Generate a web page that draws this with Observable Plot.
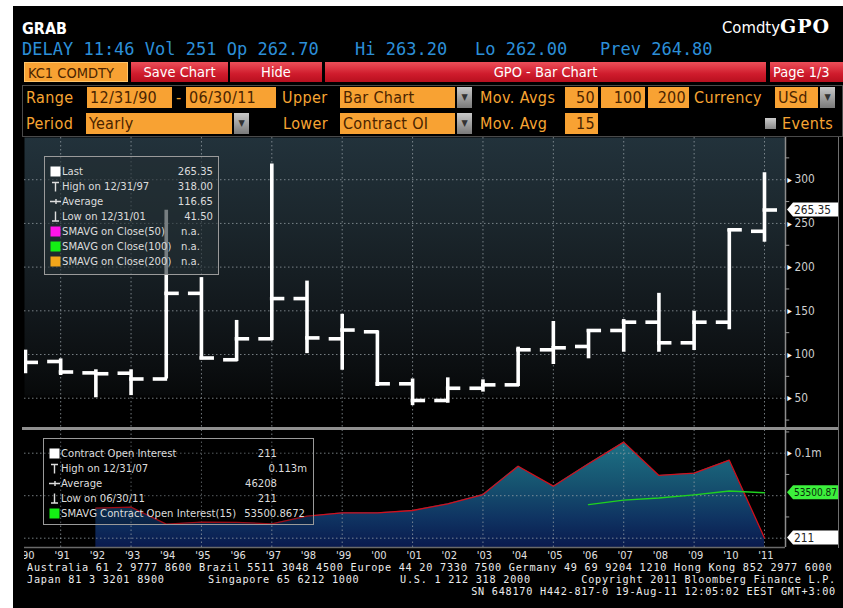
<!DOCTYPE html>
<html><head><meta charset="utf-8">
<script src="https://cdn.jsdelivr.net/npm/d3@7"></script>
<script src="https://cdn.jsdelivr.net/npm/@observablehq/plot@0.6"></script>
<style>
html,body{margin:0;padding:0;}
body{background:#fff;width:843px;height:608px;overflow:hidden;position:relative;font-family:"DejaVu Sans Condensed","Liberation Sans Narrow","DejaVu Sans",sans-serif;}
.abs{position:absolute;white-space:pre;box-sizing:border-box;}
.red{background:linear-gradient(#ec4f59,#cf1b2c 60%,#b8101f);color:#fff;font-size:14.5px;line-height:20px;text-align:center;height:20px;top:62px;}
.lbl{color:#f7a533;font-size:16px;letter-spacing:0.4px;line-height:21px;height:21px;}
.inp{background:#f8a233;color:#4a2400;font-size:16px;letter-spacing:0.3px;line-height:21px;height:21px;padding-left:3px;}
.dd{background:linear-gradient(#c8c8c8,#7a7a7a);width:15px;height:21px;color:#333;font-size:9px;line-height:21px;text-align:center;}
.lg{color:#dcdcdc;font-size:11.2px;line-height:15px;height:15px;}
.ft{color:#ececec;font-family:"DejaVu Sans Mono","Liberation Mono",monospace;font-size:10.2px;letter-spacing:0.75px;line-height:10px;height:10px;}
.dl{color:#2c8fd8;font-family:"DejaVu Sans Mono","Liberation Mono",monospace;font-size:17px;top:39px;}
</style></head>
<body>
<div class="abs" style="left:13px;top:6px;width:830px;height:602px;background:#000;"></div>
<script>
// ---------------- DATA ----------------
const years    = [1990,1991,1992,1993,1994,1995,1996,1997,1998,1999,2000,2001,2002,2003,2004,2005,2006,2007,2008,2009,2010,2011];
const openPx   = [90, 92, 79, 78.6, 72, 170, 94, 118, 164, 118, 126, 66.5, 47.4, 61.4, 65.3, 105.4, 109.2, 127.5, 137, 113.4, 137, 241];
const highPx   = [105, 95, 82.5, 82.5, 265, 188, 139, 318, 184, 146, 127, 72, 73.3, 71, 108.4, 137.8, 128.3, 140, 170, 149.5, 243, 308];
const lowPx    = [78, 76, 50.5, 53, 72, 94, 92, 116, 101, 82, 63.4, 41.5, 44.3, 57, 63.4, 88.6, 95.1, 102.6, 102.6, 104.6, 128.3, 228.5];
const closePx  = [91, 80, 78, 72, 170, 96, 118, 164, 119, 128, 66.5, 47.4, 61.4, 65.3, 105.4, 107.7, 127.5, 137, 113.4, 137, 242.7, 265.35];
const oiYears  = [1992,1993,1994,1995,1996,1997,1998,1999,2000,2001,2002,2003,2004,2005,2006,2007,2008,2009,2010,2011];
const openInterest = [35300, 36500, 16500, 18800, 18500, 16900, 25900, 29800, 29800, 32600, 40500, 51400, 84700, 61200, 87500, 113000, 73800, 76500, 91800, 211];
const smaYears = [2006,2007,2008,2009,2010,2011];
const smaOI    = [39500, 44800, 47300, 51000, 55500, 53500.87];
const gridYears = [1991,1993,1995,1997,1999,2001,2003,2005,2007,2009,2011];
const upperTicks = [50,100,150,200,250,300];
const upperMinor = [25,75,125,175,225,275,325];
const lowerGrid = [0,50000,100000];
const lowerLabelTicks = [100000];
const lowerTickLabels = ["0.1m"];
const lowerMinor = [25000,75000,125000];
const xLabels = years.map(y => "'" + String(y).slice(2));
const lastPrice = 265.35, lastOI = 211, lastSMA = 53500.87;

// ---------------- HELPERS ----------------
function el(css, text, cls) {
  const e = document.createElement("div");
  e.className = "abs" + (cls ? " " + cls : "");
  Object.assign(e.style, css);
  if (text != null) e.textContent = text;
  document.body.appendChild(e);
  return e;
}
function scaleFn(chart, name) {
  const s = chart.scale(name);
  if (s && typeof s.apply === "function") return v => s.apply(v);
  return d3.scaleLinear(s.domain, s.range);
}
const font = '"DejaVu Sans Condensed","DejaVu Sans",sans-serif';
function flagBox(svg, yPix, text, bg, fg) {
  const g = d3.select(svg).append("g");
  const xl = 761; // frame's right edge in svg coordinates
  g.append("path")
    .attr("d", `M${xl+2},${yPix} L${xl+8},${yPix-7} L${xl+54},${yPix-7} L${xl+54},${yPix+7} L${xl+8},${yPix+7} Z`)
    .attr("fill", bg);
  const long = text.length > 6;
  const t = g.append("text").attr("x", xl + 9).attr("y", yPix + 4.2)
    .attr("text-anchor", "start")
    .attr("fill", fg).attr("font-size", long ? 10.5 : 11.8)
    .attr("font-family", font)
    .text(text);
  if (long) t.attr("textLength", 43).attr("lengthAdjust", "spacingAndGlyphs");
}

// ---------------- HEADER ----------------
el({left:"22px",top:"19px",color:"#fff",fontSize:"16px",fontWeight:"bold"}, "GRAB");
const cg = el({right:"13px",top:"15px",color:"#fff",fontSize:"16.5px"});
cg.innerHTML = 'Comdty<span style="font-family:\'DejaVu Serif\',\'Liberation Serif\',serif;font-weight:bold;font-size:19px;letter-spacing:1px">GPO</span>';
el({left:"22px"}, "DELAY 11:46 Vol 251 Op 262.70", "dl");
el({left:"355px"}, "Hi 263.20", "dl");
el({left:"475px"}, "Lo 262.00", "dl");
el({left:"600px"}, "Prev 264.80", "dl");

el({left:"24px",top:"62px",width:"104px",height:"20px",background:"#f8a233",color:"#4a2400",fontSize:"14.5px",lineHeight:"20px",paddingLeft:"3px",border:"1px solid #ffc46a"}, "KC1 COMDTY");
el({left:"131px",width:"97px"}, "Save Chart", "red");
el({left:"230px",width:"92px"}, "Hide", "red");
el({left:"325px",width:"441px"}, "GPO - Bar Chart", "red");
el({left:"770px",width:"73px",textAlign:"left",paddingLeft:"3px"}, "Page 1/3", "red");

el({left:"22px",top:"85px",width:"821px",height:"52px",border:"1px solid #4a4a4a"});
// row 4
el({left:"26px",top:"87px"}, "Range", "lbl");
el({left:"87px",top:"87px",width:"85px"}, "12/31/90", "inp");
el({left:"176px",top:"87px"}, "-", "lbl");
el({left:"186px",top:"87px",width:"90px"}, "06/30/11", "inp");
el({left:"282px",top:"87px"}, "Upper", "lbl");
el({left:"340px",top:"87px",width:"115px"}, "Bar Chart", "inp");
el({left:"457px",top:"87px"}, "▼", "dd");
el({left:"480px",top:"87px"}, "Mov. Avgs", "lbl");
el({left:"565px",top:"87px",width:"33px",textAlign:"right",paddingRight:"3px"}, "50", "inp");
el({left:"601px",top:"87px",width:"44px",textAlign:"right",paddingRight:"3px"}, "100", "inp");
el({left:"648px",top:"87px",width:"41px",textAlign:"right",paddingRight:"3px"}, "200", "inp");
el({left:"694px",top:"87px"}, "Currency", "lbl");
el({left:"775px",top:"87px",width:"43px"}, "USd", "inp");
el({left:"820px",top:"87px"}, "▼", "dd");
// row 5
el({left:"26px",top:"113px"}, "Period", "lbl");
el({left:"86px",top:"113px",width:"146px"}, "Yearly", "inp");
el({left:"234px",top:"113px"}, "▼", "dd");
el({left:"283px",top:"113px"}, "Lower", "lbl");
el({left:"340px",top:"113px",width:"115px"}, "Contract OI", "inp");
el({left:"457px",top:"113px"}, "▼", "dd");
el({left:"480px",top:"113px"}, "Mov. Avg", "lbl");
el({left:"565px",top:"113px",width:"33px",textAlign:"right",paddingRight:"3px"}, "15", "inp");
el({left:"765px",top:"118px",width:"11px",height:"11px",background:"linear-gradient(#ccc,#888)"});
el({left:"782px",top:"113px"}, "Events", "lbl");

// ---------------- UPPER PANEL ----------------
const bars = years.map((y, i) => ({year: y, open: openPx[i], high: highPx[i], low: lowPx[i], close: closePx[i]}));
const X0 = 1989.972, X1 = 2011.597;
const TICK = 0.37;
const dotted = {stroke: "#9aa3a8", strokeOpacity: 0.75, strokeDasharray: "1.5,2.5", strokeWidth: 1};

const upper = Plot.plot({
  width: 819, height: 290,
  marginLeft: 0, marginRight: 58, marginTop: 0, marginBottom: 0,
  x: {domain: [X0, X1], axis: null},
  y: {domain: [16.5, 348.3], axis: null},
  style: {background: "transparent", overflow: "hidden", fontFamily: font},
  marks: [
    Plot.frame({fill: "url(#upGrad)", stroke: "none"}),
    Plot.ruleY(upperTicks, {y: d => d, ...dotted}),
    Plot.ruleX(gridYears, {x: d => d, ...dotted}),
    Plot.ruleX(bars, {x: "year", y1: "low", y2: "high", stroke: "#fff", strokeWidth: 3.6, clip: true}),
    Plot.ruleY(bars, {y: "open", x1: d => d.year - TICK, x2: d => d.year + 0.04, stroke: "#fff", strokeWidth: 3.6, clip: true}),
    Plot.ruleY(bars, {y: "close", x1: d => d.year - 0.04, x2: d => d.year + TICK, stroke: "#fff", strokeWidth: 3.6, clip: true}),
    Plot.ruleX([X1], {stroke: "#8d8d8d", strokeWidth: 1.5}),
    Plot.ruleY(upperMinor, {y: d => d, x1: X1, x2: X1 + 0.12, stroke: "#9a9a9a", strokeWidth: 1}),
    Plot.text(upperTicks, {x: () => X1, y: d => d, text: () => "▸", dx: 4, fill: "#fff", fontSize: 10, textAnchor: "middle"}),
    Plot.text(upperTicks, {x: () => X1, y: d => d, text: d => String(d), dx: 9, fill: "#d0d0d0", fontSize: 11.8, textAnchor: "start"})
  ]
});
d3.select(upper).insert("defs", ":first-child").html(
  '<linearGradient id="upGrad" x1="0" y1="0" x2="0" y2="1">' +
  '<stop offset="0" stop-color="#22323b"/><stop offset="0.3" stop-color="#1b262c"/>' +
  '<stop offset="0.6" stop-color="#12181c"/><stop offset="0.8" stop-color="#0b0e10"/>' +
  '<stop offset="0.885" stop-color="#07090a"/><stop offset="0.9" stop-color="#000"/><stop offset="1" stop-color="#000"/>' +
  '</linearGradient>');
flagBox(upper, scaleFn(upper, "y")(lastPrice), lastPrice.toFixed(2), "#ffffff", "#222");
Object.assign(upper.style, {position: "absolute", left: "24px", top: "137px"});
document.body.appendChild(upper);

// ---------------- LOWER PANEL ----------------
const oi = oiYears.map((y, i) => ({year: y, value: openInterest[i]}));
const sma = smaYears.map((y, i) => ({year: y, value: smaOI[i]}));
const LY0 = -10941, LY1 = 126706;
const lower = Plot.plot({
  width: 819, height: 135,
  marginLeft: 0, marginRight: 58, marginTop: 0, marginBottom: 18,
  x: {domain: [X0, X1], axis: null},
  y: {domain: [LY0, LY1], axis: null},
  style: {background: "transparent", overflow: "hidden", fontFamily: font},
  marks: [
    Plot.areaY(oi, {x: "year", y1: () => LY0, y2: "value", fill: "url(#oiGrad)"}),
    Plot.ruleY(lowerGrid, {y: d => d, ...dotted}),
    Plot.ruleX(gridYears, {x: d => d, y1: LY0, y2: LY1, ...dotted}),
    Plot.line(oi, {x: "year", y: "value", stroke: "#d0101c", strokeWidth: 1.3}),
    Plot.line(sma, {x: "year", y: "value", stroke: "#1fd21f", strokeWidth: 1.4}),
    Plot.ruleX([X1], {y1: LY0, y2: LY1, stroke: "#8d8d8d", strokeWidth: 1.5}),
    Plot.ruleY([LY0], {x1: X0, x2: X1, stroke: "#6a6a6a", strokeWidth: 1.5}),
    Plot.ruleY(lowerMinor, {y: d => d, x1: X1, x2: X1 + 0.12, stroke: "#9a9a9a", strokeWidth: 1}),
    Plot.text(lowerLabelTicks, {x: () => X1, y: d => d, text: () => "▸", dx: 4, fill: "#fff", fontSize: 10, textAnchor: "middle"}),
    Plot.text(lowerLabelTicks, {x: () => X1, y: d => d, text: (d, i) => lowerTickLabels[i], dx: 9, fill: "#d0d0d0", fontSize: 11.8, textAnchor: "start"}),
    Plot.text(years, {x: d => d, y: () => LY0, text: (d, i) => xLabels[i], dy: 8, dx: 1.5, fill: "#e0e0e0", fontSize: 11, textAnchor: "middle"})
  ]
});
d3.select(lower).insert("defs", ":first-child").html(
  '<linearGradient id="oiGrad" x1="0" y1="0" x2="0" y2="1">' +
  '<stop offset="0" stop-color="#1d7185"/><stop offset="0.4" stop-color="#165370"/>' +
  '<stop offset="0.72" stop-color="#0f3462"/><stop offset="1" stop-color="#0a1a4e"/>' +
  '</linearGradient>');
const ly = scaleFn(lower, "y");
flagBox(lower, ly(lastSMA), "53500.87", "#3cf03c", "#0a2a0a");
flagBox(lower, ly(lastOI), String(lastOI), "#ffffff", "#222");
Object.assign(lower.style, {position: "absolute", left: "24px", top: "430px"});
document.body.appendChild(lower);

// separators / borders
el({left:"22px",top:"427px",width:"816px",height:"3px",background:"#8f8f8f"});
el({left:"838px",top:"137px",width:"1px",height:"411px",background:"#6f6f6f"});

// ---------------- LEGENDS ----------------
function icon(kind, color) {
  const c = color || "#fff";
  if (kind === "sq") return `<svg width="11" height="11"><rect x="0.5" y="0.5" width="10" height="10" fill="${c}"/></svg>`;
  if (kind === "hi") return `<svg width="11" height="11"><path d="M2,1.5H9M5.5,1.5V10.5" stroke="#ddd" stroke-width="1.4" fill="none"/></svg>`;
  if (kind === "lo") return `<svg width="11" height="11"><path d="M2,10H9M5.5,0.5V10" stroke="#ddd" stroke-width="1.4" fill="none"/></svg>`;
  if (kind === "avg") return `<svg width="11" height="11"><path d="M0,5.5H11M6,3V8" stroke="#ddd" stroke-width="1.4" fill="none"/></svg>`;
}
function legend(box, rows) {
  const b = el(box);
  rows.forEach((r, i) => {
    const row = document.createElement("div");
    row.className = "abs lg";
    Object.assign(row.style, {left: "0px", top: (r.top + i * 15) + "px", width: "100%"});
    row.innerHTML = `<span style="position:absolute;left:${r.il}px;top:2px">${icon(r.icon, r.color)}</span>` +
      `<span style="position:absolute;left:${r.tl}px">${r.label}</span>` +
      (r.vr != null ? `<span style="position:absolute;right:${r.vr}px">${r.value}</span>`
                    : `<span style="position:absolute;left:${r.vl}px">${r.value}</span>`);
    b.appendChild(row);
  });
}
legend({left:"44px",top:"156px",width:"175px",height:"119px",border:"1px solid #9a9a9a",background:"rgba(36,46,52,0.62)"}, [
  {icon:"sq", label:"Last", value:"265.35", il:5, tl:17, vr:5, top:7},
  {icon:"hi", label:"High on 12/31/97", value:"318.00", il:5, tl:17, vr:5, top:7},
  {icon:"avg", label:"Average", value:"116.65", il:5, tl:17, vr:5, top:7},
  {icon:"lo", label:"Low on 12/31/01", value:"41.50", il:5, tl:17, vr:5, top:7},
  {icon:"sq", color:"#ff14e8", label:"SMAVG on Close(50)", value:"n.a.", il:5, tl:17, vl:136, top:7},
  {icon:"sq", color:"#14f014", label:"SMAVG on Close(100)", value:"n.a.", il:5, tl:17, vl:136, top:7},
  {icon:"sq", color:"#f2a61a", label:"SMAVG on Close(200)", value:"n.a.", il:5, tl:17, vl:136, top:7}
]);
legend({left:"43px",top:"438px",width:"271px",height:"87px",border:"1px solid #9a9a9a",background:"rgba(0,0,0,0.25)"}, [
  {icon:"sq", label:"Contract Open Interest", value:"211", il:5, tl:17, vr:36, top:7},
  {icon:"hi", label:"High on 12/31/07", value:"0.113m", il:5, tl:17, vr:6, top:7},
  {icon:"avg", label:"Average", value:"46208", il:5, tl:17, vr:36, top:7},
  {icon:"lo", label:"Low on 06/30/11", value:"211", il:5, tl:17, vr:36, top:7},
  {icon:"sq", color:"#14f014", label:"SMAVG Contract Open Interest(15)", value:"53500.8672", il:5, tl:17, vr:8, top:7}
]);

// ---------------- FOOTER ----------------
el({left:"27px",top:"563px"}, "Australia 61 2 9777 8600 Brazil 5511 3048 4500 Europe 44 20 7330 7500 Germany 49 69 9204 1210 Hong Kong 852 2977 6000", "ft");
el({left:"27px",top:"575px"}, "Japan 81 3 3201 8900", "ft");
el({left:"208px",top:"575px"}, "Singapore 65 6212 1000", "ft");
el({left:"400px",top:"575px"}, "U.S. 1 212 318 2000", "ft");
el({right:"7px",top:"575px"}, "Copyright 2011 Bloomberg Finance L.P.", "ft");
el({right:"7px",top:"587px"}, "SN 648170 H442-817-0 19-Aug-11 12:05:02 EEST GMT+3:00", "ft");
</script>
</body></html>
